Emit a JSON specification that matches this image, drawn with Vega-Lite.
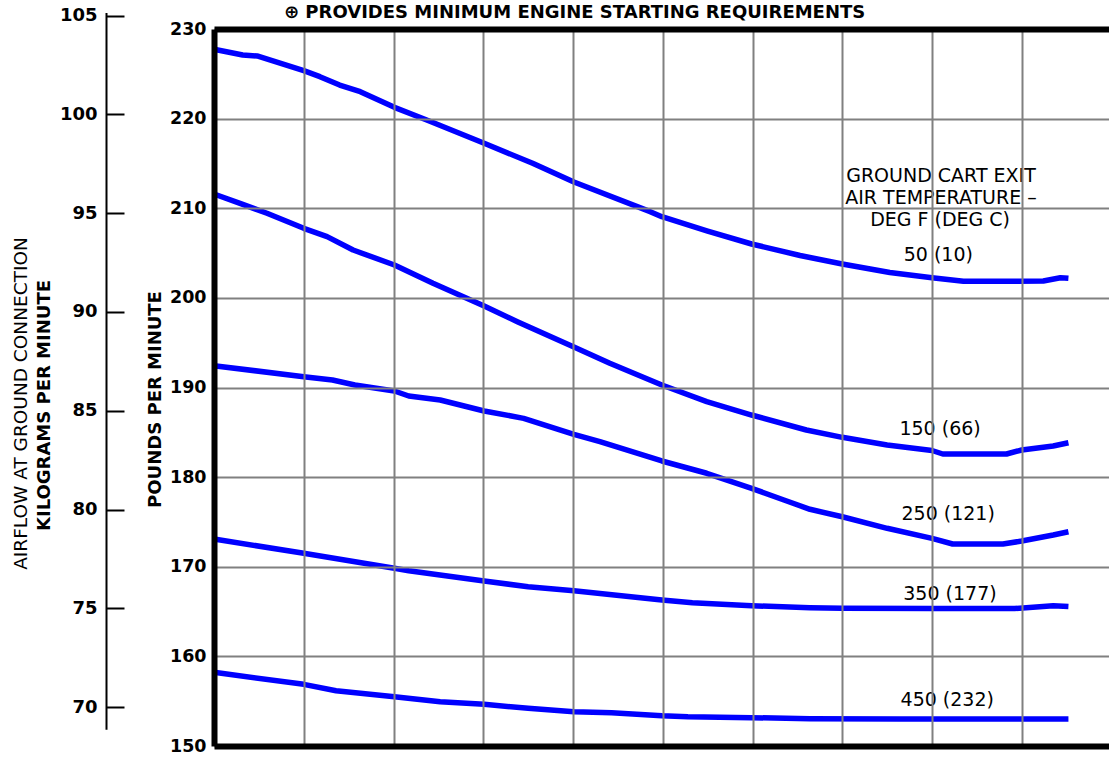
{
  "$schema": "https://vega.github.io/schema/vega-lite/v6.json",
  "autosize": "none",
  "width": 895,
  "height": 717,
  "padding": {"left": 214, "top": 29, "right": 0, "bottom": 13},
  "background": "white",
  "config": {
    "view": {"stroke": null},
    "font": "DejaVu Sans",
    "text": {"font": "DejaVu Sans"}
  },
  "title": {
    "text": "⊕ PROVIDES MINIMUM ENGINE STARTING REQUIREMENTS",
    "anchor": "start",
    "frame": "group",
    "dx": 70,
    "dy": 15,
    "font": "DejaVu Sans",
    "fontSize": 18,
    "fontWeight": "bold",
    "color": "black",
    "offset": 0
  },
  "datasets": {
    "curves": [
      {"temp": "50", "x": 0.00, "lb": 227.74},
      {"temp": "50", "x": 0.32, "lb": 227.10},
      {"temp": "50", "x": 0.48, "lb": 226.99},
      {"temp": "50", "x": 1.00, "lb": 225.35},
      {"temp": "50", "x": 1.18, "lb": 224.68},
      {"temp": "50", "x": 1.40, "lb": 223.75},
      {"temp": "50", "x": 1.63, "lb": 223.00},
      {"temp": "50", "x": 2.01, "lb": 221.26},
      {"temp": "50", "x": 2.37, "lb": 219.85},
      {"temp": "50", "x": 3.01, "lb": 217.25},
      {"temp": "50", "x": 3.55, "lb": 215.02},
      {"temp": "50", "x": 4.01, "lb": 212.93},
      {"temp": "50", "x": 4.86, "lb": 209.62},
      {"temp": "50", "x": 4.99, "lb": 209.06},
      {"temp": "50", "x": 5.50, "lb": 207.45},
      {"temp": "50", "x": 5.99, "lb": 206.01},
      {"temp": "50", "x": 6.53, "lb": 204.73},
      {"temp": "50", "x": 7.00, "lb": 203.78},
      {"temp": "50", "x": 7.53, "lb": 202.83},
      {"temp": "50", "x": 8.00, "lb": 202.25},
      {"temp": "50", "x": 8.35, "lb": 201.86},
      {"temp": "50", "x": 8.76, "lb": 201.86},
      {"temp": "50", "x": 9.24, "lb": 201.88},
      {"temp": "50", "x": 9.43, "lb": 202.25},
      {"temp": "50", "x": 9.52, "lb": 202.18},

      {"temp": "150", "x": 0.00, "lb": 211.59},
      {"temp": "150", "x": 0.29, "lb": 210.55},
      {"temp": "150", "x": 0.59, "lb": 209.44},
      {"temp": "150", "x": 1.00, "lb": 207.76},
      {"temp": "150", "x": 1.26, "lb": 206.83},
      {"temp": "150", "x": 1.55, "lb": 205.34},
      {"temp": "150", "x": 2.01, "lb": 203.67},
      {"temp": "150", "x": 2.44, "lb": 201.63},
      {"temp": "150", "x": 3.01, "lb": 199.09},
      {"temp": "150", "x": 3.38, "lb": 197.34},
      {"temp": "150", "x": 4.01, "lb": 194.52},
      {"temp": "150", "x": 4.41, "lb": 192.70},
      {"temp": "150", "x": 4.99, "lb": 190.28},
      {"temp": "150", "x": 5.49, "lb": 188.42},
      {"temp": "150", "x": 5.99, "lb": 186.93},
      {"temp": "150", "x": 6.60, "lb": 185.26},
      {"temp": "150", "x": 7.00, "lb": 184.44},
      {"temp": "150", "x": 7.50, "lb": 183.58},
      {"temp": "150", "x": 8.00, "lb": 182.97},
      {"temp": "150", "x": 8.12, "lb": 182.58},
      {"temp": "150", "x": 8.83, "lb": 182.58},
      {"temp": "150", "x": 9.00, "lb": 183.03},
      {"temp": "150", "x": 9.35, "lb": 183.47},
      {"temp": "150", "x": 9.52, "lb": 183.84},

      {"temp": "250", "x": 0.00, "lb": 192.43},
      {"temp": "250", "x": 1.00, "lb": 191.20},
      {"temp": "250", "x": 1.32, "lb": 190.84},
      {"temp": "250", "x": 1.57, "lb": 190.28},
      {"temp": "250", "x": 2.01, "lb": 189.61},
      {"temp": "250", "x": 2.17, "lb": 189.05},
      {"temp": "250", "x": 2.52, "lb": 188.61},
      {"temp": "250", "x": 3.01, "lb": 187.38},
      {"temp": "250", "x": 3.45, "lb": 186.56},
      {"temp": "250", "x": 4.01, "lb": 184.78},
      {"temp": "250", "x": 4.30, "lb": 183.95},
      {"temp": "250", "x": 4.99, "lb": 181.80},
      {"temp": "250", "x": 5.49, "lb": 180.43},
      {"temp": "250", "x": 5.99, "lb": 178.75},
      {"temp": "250", "x": 6.35, "lb": 177.45},
      {"temp": "250", "x": 6.64, "lb": 176.41},
      {"temp": "250", "x": 7.00, "lb": 175.58},
      {"temp": "250", "x": 7.50, "lb": 174.29},
      {"temp": "250", "x": 8.00, "lb": 173.17},
      {"temp": "250", "x": 8.23, "lb": 172.54},
      {"temp": "250", "x": 8.79, "lb": 172.54},
      {"temp": "250", "x": 9.00, "lb": 172.87},
      {"temp": "250", "x": 9.35, "lb": 173.54},
      {"temp": "250", "x": 9.52, "lb": 173.91},

      {"temp": "350", "x": 0.00, "lb": 173.10},
      {"temp": "350", "x": 1.00, "lb": 171.50},
      {"temp": "350", "x": 2.01, "lb": 169.83},
      {"temp": "350", "x": 2.17, "lb": 169.56},
      {"temp": "350", "x": 3.01, "lb": 168.41},
      {"temp": "350", "x": 3.50, "lb": 167.77},
      {"temp": "350", "x": 4.01, "lb": 167.33},
      {"temp": "350", "x": 4.99, "lb": 166.29},
      {"temp": "350", "x": 5.33, "lb": 165.99},
      {"temp": "350", "x": 5.99, "lb": 165.65},
      {"temp": "350", "x": 6.64, "lb": 165.43},
      {"temp": "350", "x": 7.00, "lb": 165.36},
      {"temp": "350", "x": 8.00, "lb": 165.34},
      {"temp": "350", "x": 8.92, "lb": 165.34},
      {"temp": "350", "x": 9.35, "lb": 165.65},
      {"temp": "350", "x": 9.52, "lb": 165.56},

      {"temp": "450", "x": 0.00, "lb": 158.22},
      {"temp": "450", "x": 1.00, "lb": 156.88},
      {"temp": "450", "x": 1.36, "lb": 156.17},
      {"temp": "450", "x": 2.01, "lb": 155.50},
      {"temp": "450", "x": 2.52, "lb": 154.94},
      {"temp": "450", "x": 3.01, "lb": 154.65},
      {"temp": "450", "x": 3.50, "lb": 154.21},
      {"temp": "450", "x": 4.01, "lb": 153.83},
      {"temp": "450", "x": 4.43, "lb": 153.72},
      {"temp": "450", "x": 4.99, "lb": 153.38},
      {"temp": "450", "x": 5.28, "lb": 153.27},
      {"temp": "450", "x": 5.99, "lb": 153.16},
      {"temp": "450", "x": 6.64, "lb": 153.05},
      {"temp": "450", "x": 7.64, "lb": 153.01},
      {"temp": "450", "x": 9.52, "lb": 153.01}
    ],
    "labels": [
      {"label": "GROUND CART EXIT", "x": 8.10, "lb": 213.60},
      {"label": "AIR TEMPERATURE –", "x": 8.10, "lb": 211.14},
      {"label": "DEG F (DEG C)", "x": 8.09, "lb": 208.69},
      {"label": "50 (10)", "x": 8.07, "lb": 204.73},
      {"label": "150 (66)", "x": 8.09, "lb": 185.37},
      {"label": "250 (121)", "x": 8.18, "lb": 175.89},
      {"label": "350 (177)", "x": 8.20, "lb": 166.96},
      {"label": "450 (232)", "x": 8.17, "lb": 155.13}
    ]
  },
  "resolve": {
    "scale": {"y": "independent"},
    "axis": {"y": "independent", "x": "independent"}
  },
  "layer": [
    {
      "encoding": {
        "x": {
          "field": "x",
          "type": "quantitative",
          "scale": {"domain": [0, 9.972], "nice": false, "zero": false},
          "axis": {
            "orient": "bottom",
            "values": [1, 2, 3, 4, 5, 6, 7, 8, 9],
            "grid": true,
            "gridColor": "#808080",
            "gridWidth": 2,
            "gridOpacity": 1,
            "labels": false,
            "ticks": false,
            "domain": true,
            "domainColor": "black",
            "domainWidth": 6,
            "title": null,
            "zindex": 1
          }
        },
        "y": {
          "field": "lb",
          "type": "quantitative",
          "scale": {"domain": [150, 230], "nice": false, "zero": false},
          "axis": {
            "orient": "left",
            "values": [150, 160, 170, 180, 190, 200, 210, 220, 230],
            "grid": true,
            "gridColor": "#808080",
            "gridWidth": 2,
            "gridOpacity": 1,
            "ticks": false,
            "domain": true,
            "domainColor": "black",
            "domainWidth": 6,
            "labelFont": "DejaVu Sans",
            "labelFontSize": 17.5,
            "labelFontWeight": "bold",
            "labelColor": "black",
            "labelPadding": 8,
            "labelFlush": false,
            "labelOverlap": false,
            "title": "POUNDS PER MINUTE",
            "titleFont": "DejaVu Sans",
            "titleFontSize": 18,
            "titleFontWeight": "bold",
            "titleColor": "black",
            "titleAngle": 270,
            "titleAlign": "center",
            "titleBaseline": "middle",
            "titleX": -59,
            "titleY": 370,
            "zindex": 1
          }
        }
      },
      "layer": [
        {
          "data": {"name": "labels"},
          "mark": {"type": "text", "align": "center", "baseline": "middle", "font": "DejaVu Sans", "fontSize": 19, "fill": "white", "stroke": "white", "strokeWidth": 8, "strokeJoin": "round"},
          "encoding": {"text": {"field": "label"}}
        },
        {
          "data": {"name": "curves"},
          "mark": {"type": "line", "color": "#0000ff", "strokeWidth": 5.5, "strokeJoin": "round", "strokeCap": "butt"},
          "encoding": {"detail": {"field": "temp"}}
        },
        {
          "data": {"name": "labels"},
          "mark": {"type": "text", "align": "center", "baseline": "middle", "font": "DejaVu Sans", "fontSize": 19, "color": "black"},
          "encoding": {"text": {"field": "label"}}
        }
      ]
    },
    {
      "data": {"values": [{}]},
      "mark": {"type": "point", "opacity": 0},
      "encoding": {
        "x": {
          "datum": 5,
          "type": "quantitative",
          "axis": {
            "orient": "top",
            "domain": true,
            "domainColor": "black",
            "domainWidth": 6,
            "labels": false,
            "ticks": false,
            "grid": false,
            "title": null,
            "zindex": 1
          }
        },
        "y": {
          "datum": 80,
          "type": "quantitative",
          "scale": {"domain": [68.88, 105.15], "range": [700.3, -16.4], "nice": false, "zero": false},
          "axis": {
            "orient": "left",
            "offset": 108,
            "values": [70, 75, 80, 85, 90, 95, 100, 105],
            "grid": false,
            "domain": true,
            "domainColor": "black",
            "domainWidth": 2,
            "ticks": true,
            "tickColor": "black",
            "tickWidth": 2,
            "tickSize": -18,
            "labelFont": "DejaVu Sans",
            "labelFontSize": 18,
            "labelFontWeight": "bold",
            "labelColor": "black",
            "labelPadding": 27,
            "labelFlush": false,
            "labelOverlap": false,
            "title": "KILOGRAMS PER MINUTE",
            "titleFont": "DejaVu Sans",
            "titleFontSize": 18,
            "titleFontWeight": "bold",
            "titleColor": "black",
            "titleAngle": 270,
            "titleAlign": "center",
            "titleBaseline": "middle",
            "titleX": -61.5,
            "titleY": 376
          }
        }
      }
    },
    {
      "data": {"values": [{}]},
      "mark": {"type": "rule", "opacity": 0},
      "encoding": {
        "y": {
          "datum": 0,
          "type": "quantitative",
          "axis": {
            "orient": "left",
            "labels": false,
            "ticks": false,
            "domain": false,
            "grid": false,
            "title": "AIRFLOW AT GROUND CONNECTION",
            "titleFont": "DejaVu Sans",
            "titleFontSize": 18.5,
            "titleFontWeight": "normal",
            "titleColor": "black",
            "titleAngle": 270,
            "titleAlign": "center",
            "titleBaseline": "middle",
            "titleX": -194,
            "titleY": 374
          }
        }
      }
    }
  ]
}
